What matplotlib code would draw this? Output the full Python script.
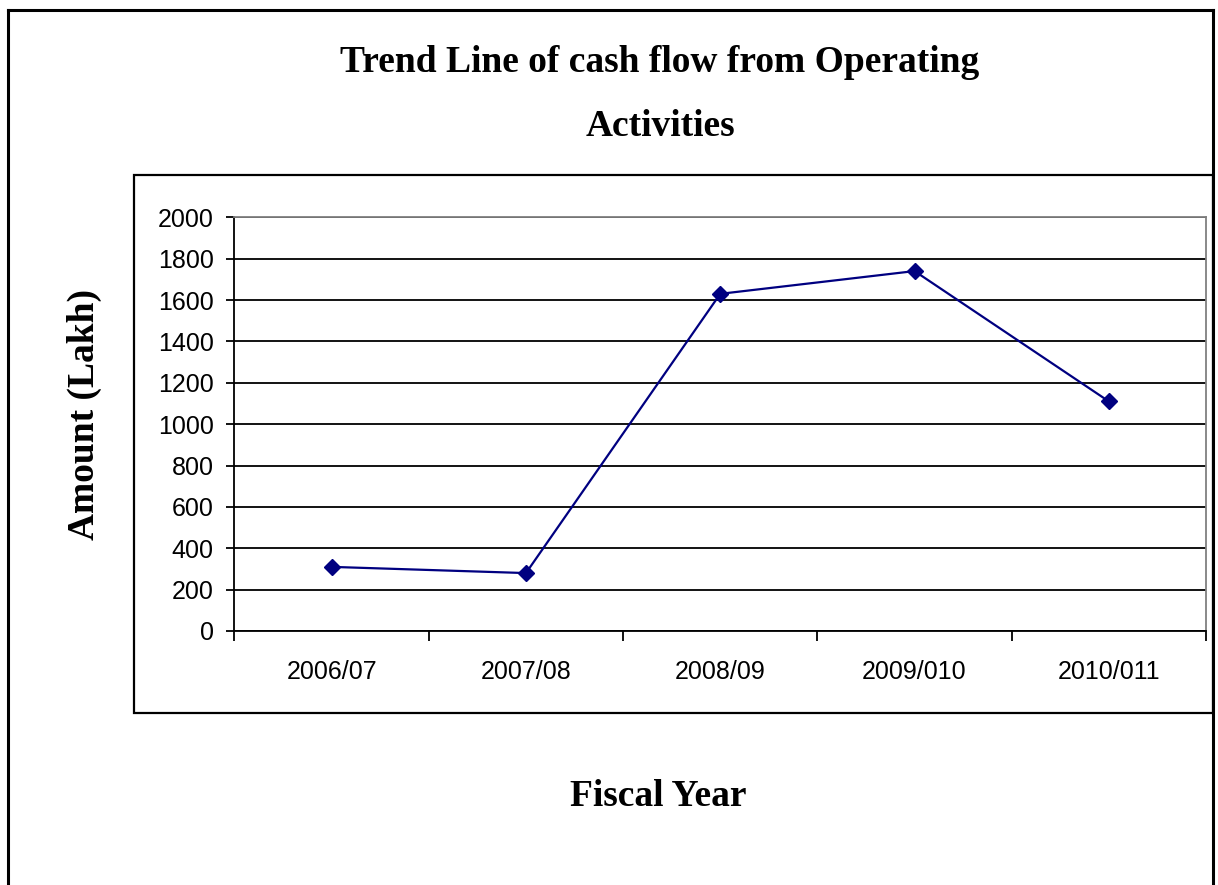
import matplotlib
matplotlib.use("Agg")
import matplotlib.pyplot as plt
from matplotlib.lines import Line2D
from matplotlib.patches import Rectangle
import numpy as np

# Cash flow from operating activities, in lakh
years = ["2006/07", "2007/08", "2008/09", "2009/010", "2010/011"]
amounts = [310, 280, 1630, 1740, 1110]
y_ticks = [0, 200, 400, 600, 800, 1000, 1200, 1400, 1600, 1800, 2000]

W, H = 1218, 885
fig = plt.figure(figsize=(W / 100, H / 100), dpi=100)

def fx(px):
    return px / W

def fy(py):
    return 1 - py / H

# outer chart border (runs off the bottom of the image)
for xs, ys in [([8, 1213], [10, 10]), ([8, 8], [10, 890]), ([1213, 1213], [10, 890])]:
    fig.add_artist(Line2D([fx(x) for x in xs], [fy(y) for y in ys],
                          color="black", lw=2.2, transform=fig.transFigure))

# plot area box
fig.add_artist(Rectangle((fx(134), fy(713)), fx(1213) - fx(134), fy(175) - fy(713),
                         fill=False, ec="black", lw=1.6, transform=fig.transFigure))

ax = fig.add_axes([fx(234.5), fy(631), fx(1206) - fx(234.5), fy(217.3) - fy(631)])

x = np.arange(len(years)) + 0.5
ax.plot(x, amounts, color="#000080", lw=1.6, marker="D", markersize=8.5,
        markerfacecolor="#000080", markeredgecolor="#000080", zorder=3)

ax.set_xlim(0, len(years))
ax.set_ylim(0, 2000)
ax.set_yticks(y_ticks)
ax.set_yticklabels([str(v) for v in y_ticks], fontfamily="Liberation Sans", fontsize=18)
ax.yaxis.grid(True, color="black", lw=1.3)
ax.set_axisbelow(True)

ax.set_xticks(np.arange(len(years) + 1))
ax.set_xticklabels([])
ax.set_xticks(x, minor=True)
ax.set_xticklabels(years, minor=True, fontfamily="Liberation Sans", fontsize=18)
ax.tick_params(axis="x", which="major", length=7, width=1.3, direction="out")
ax.tick_params(axis="x", which="minor", length=0, pad=21)
ax.tick_params(axis="y", length=6, width=1.3, direction="out", pad=9)

for side in ["left", "bottom"]:
    ax.spines[side].set_color("black")
    ax.spines[side].set_linewidth(1.3)
for side in ["top", "right"]:
    ax.spines[side].set_color("#808080")
    ax.spines[side].set_linewidth(1.3)

serif = dict(fontfamily="Liberation Serif", fontweight="bold", fontsize=27)
fig.text(fx(660), fy(63), "Trend Line of cash flow from Operating", ha="center", va="center", **serif)
fig.text(fx(660), fy(127), "Activities", ha="center", va="center", **serif)
fig.text(fx(658), fy(797), "Fiscal Year", ha="center", va="center", **serif)
fig.text(fx(84), fy(415), "Amount (Lakh)", ha="center", va="center", rotation=90, **serif)

fig.savefig("out.png", dpi=100)
